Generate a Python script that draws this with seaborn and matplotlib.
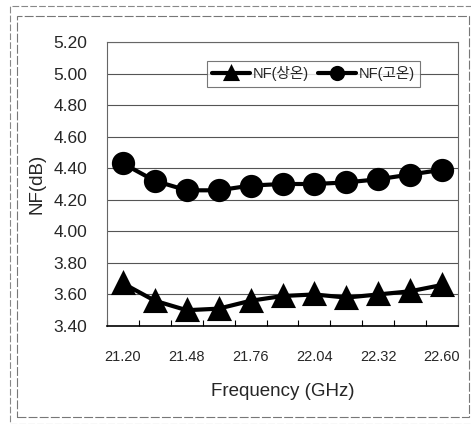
import matplotlib
matplotlib.use("Agg")
import matplotlib.pyplot as plt
from matplotlib.patches import Rectangle
import seaborn as sns
import pandas as pd

freqs = ["21.20", "21.34", "21.48", "21.62", "21.76", "21.90",
         "22.04", "22.18", "22.32", "22.46", "22.60"]
nf_room = [3.67, 3.56, 3.50, 3.51, 3.56, 3.59, 3.60, 3.58, 3.60, 3.62, 3.66]
nf_high = [4.43, 4.32, 4.26, 4.26, 4.29, 4.30, 4.30, 4.31, 4.33, 4.36, 4.39]
series_names = ["NF(상온)", "NF(고온)"]
yticks = [3.40, 3.60, 3.80, 4.00, 4.20, 4.40, 4.60, 4.80, 5.00, 5.20]
shown_labels = ["21.20", "21.48", "21.76", "22.04", "22.32", "22.60"]

sns.set_theme(style="white")
plt.rcParams['font.family'] = ['Liberation Sans', 'Noto Sans CJK KR', 'DejaVu Sans']

fig = plt.figure(figsize=(4.71, 4.24), dpi=100)
ax = fig.add_axes([107/471, 1-326/424, (458-107)/471, (326-42)/424])

df_room = pd.DataFrame({"freq": freqs, "nf": nf_room})
df_high = pd.DataFrame({"freq": freqs, "nf": nf_high})

sns.pointplot(data=df_room, x="freq", y="nf", order=freqs, color="black",
              markers="^", errorbar=None, ax=ax, label=series_names[0],
              markersize=15, linewidth=3)
sns.pointplot(data=df_high, x="freq", y="nf", order=freqs, color="black",
              markers="o", errorbar=None, ax=ax, label=series_names[1],
              markersize=14.5, linewidth=3)

ax.set_xlim(-0.5, len(freqs) - 0.5)
ax.set_ylim(yticks[0], yticks[-1])
ax.set_yticks(yticks)
ax.set_yticklabels([f"{v:.2f}" for v in yticks], fontsize=12.5)
pos = [freqs.index(s) for s in shown_labels]
ax.set_xticks(pos)
ax.set_xticklabels(shown_labels, fontsize=10.5)
ax.set_xticks([i - 0.5 for i in range(len(freqs) + 1)], minor=True)
ax.tick_params(axis="x", which="major", length=0, pad=17)
ax.tick_params(axis="x", which="minor", direction="in", length=4, width=0.8, color="black", bottom=True)
ax.tick_params(axis="y", length=0, pad=14)

ax.grid(axis="y", color="#555555", linewidth=0.8)
ax.set_axisbelow(True)
for s in ["left", "top", "right"]:
    ax.spines[s].set_color("#666666")
    ax.spines[s].set_linewidth(0.8)
ax.spines["bottom"].set_color("black")
ax.spines["bottom"].set_linewidth(1.2)

ax.set_xlabel("Frequency (GHz)", fontsize=13.5, labelpad=14)
ax.set_ylabel("NF(dB)", fontsize=13.5, labelpad=6)

leg = ax.legend(loc="upper left", bbox_to_anchor=((200-107)/351, 1-(54-42)/284),
                ncol=2, frameon=True, fontsize=10.5, handlelength=2.6,
                columnspacing=0.6, handletextpad=0.2, borderpad=0.35,
                fancybox=False, edgecolor="#555555", markerscale=0.6)
leg.get_frame().set_linewidth(0.8)

fig.patches.append(Rectangle((10/471, 0.0), 1.2, (424-6)/424, transform=fig.transFigure,
                             fill=False, edgecolor="#888888", linewidth=0.8, linestyle=(0, (6, 2))))
fig.patches.append(Rectangle((17/471, 1-417/424), (469-17)/471, (417-16)/424, transform=fig.transFigure,
                             fill=False, edgecolor="#777777", linewidth=0.8, linestyle=(0, (8, 2))))

fig.savefig("out.png", dpi=100)
